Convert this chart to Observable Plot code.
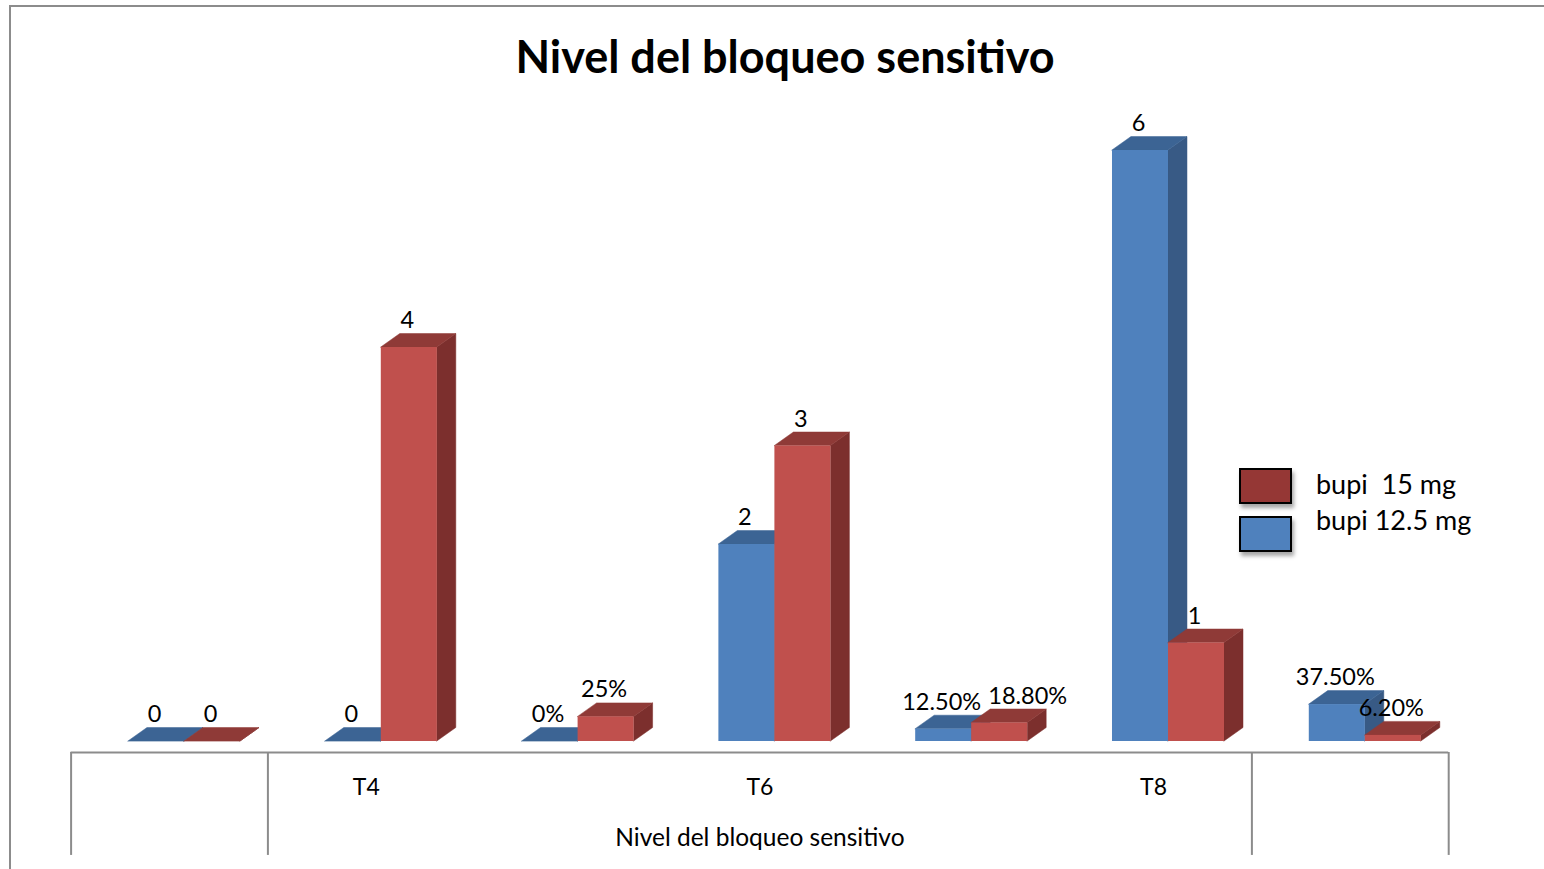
<!DOCTYPE html>
<html>
<head>
<meta charset="utf-8">
<script src="https://cdn.jsdelivr.net/npm/d3@7"></script>
<script src="https://cdn.jsdelivr.net/npm/@observablehq/plot@0.6"></script>
<style>
  html, body { margin: 0; padding: 0; background: #fff; }
  #wrap { position: relative; width: 1544px; height: 869px; overflow: hidden; background: #fff; font-family: Lato, "Open Sans", sans-serif; color: #000; }
  #frame { position: absolute; left: 9px; top: 5px; width: 1600px; height: 900px; border-left: 2px solid #8c8c8c; border-top: 2px solid #8c8c8c; z-index: 5; pointer-events: none; }
  #title { position: absolute; left: 0; top: 34px; width: 1570px; text-align: center; font-size: 45px; font-weight: 700; line-height: 1; white-space: nowrap; }
  #chart { position: absolute; left: 0; top: 100px; }
  .sw { position: absolute; left: 1239px; width: 53px; height: 36px; box-sizing: border-box; border: 2px solid #000; box-shadow: 2px 4px 4px rgba(0,0,0,0.35); }
  .lt { position: absolute; left: 1316px; font-size: 27px; line-height: 36px; white-space: pre; }
</style>
</head>
<body>
<div id="wrap">
  <div id="title">Nivel del bloqueo sensitivo</div>
  <div id="chart"></div>
  <div id="legend"></div>
  <div id="frame"></div>
</div>
<script>
// ---- data ----
const slots = ["", "T4", "", "T6", "", "T8", ""];
const groupLabel = "Nivel del bloqueo sensitivo";
const seriesNames = ["bupi 12.5 mg", "bupi  15 mg"];
const blueValues = [0, 0, 0, 2, 0.125, 6, 0.375];
const redValues  = [0, 4, 0.25, 3, 0.188, 1, 0.062];
const blueLabels = ["0", "0", "0%", "2", "12.50%", "6", "37.50%"];
const redLabels  = ["0", "4", "25%", "3", "18.80%", "1", "6.20%"];

// ---- style / geometry constants ----
const W = 0.2846;   // bar width (slot units)
const D = 0.0965;   // 3D depth in x (slot units)
const E = 0.137;    // 3D depth in y (value units)
const tableBottom = -1.045;
const tableBounds = [-0.5, 0.5, 5.5, 6.5];
const colors = {
  blue: {front: "#4f81bd", top: "#3c6494", side: "#385a85"},
  red:  {front: "#c0504d", top: "#8f3a37", side: "#7c2f2d"}
};

function buildBars(values, labels, series) {
  return values.map((v, i) => {
    const x0 = series === "blue" ? i - W : i;
    const x1 = series === "blue" ? i : i + W;
    return {id: series + i, i, x0, x1, v, label: labels[i]};
  });
}
const blueBars = buildBars(blueValues, blueLabels, "blue");
const redBars = buildBars(redValues, redLabels, "red");

function sideFaces(bars) {
  return bars.flatMap(b => [
    {id: b.id, x: b.x1, y1: 0, y2: b.v},
    {id: b.id, x: b.x1 + D, y1: E, y2: b.v + E}
  ]);
}
function topFaces(bars) {
  return bars.flatMap(b => [
    {id: b.id, y: b.v, x1: b.x0, x2: b.x1},
    {id: b.id, y: b.v + E, x1: b.x0 + D, x2: b.x1 + D}
  ]);
}
function barMarks(bars, c) {
  return [
    Plot.areaY(sideFaces(bars), {x: "x", y1: "y1", y2: "y2", z: "id", fill: c.side, stroke: c.side, strokeWidth: 0.5}),
    Plot.areaX(topFaces(bars), {y: "y", x1: "x1", x2: "x2", z: "id", fill: c.top, stroke: c.top, strokeWidth: 0.5}),
    Plot.rect(bars, {x1: "x0", x2: "x1", y1: 0, y2: "v", fill: c.front})
  ];
}

const labelFont = 23.5;
const allBars = blueBars.concat(redBars);

const chart = Plot.plot({
  width: 1544,
  height: 769,
  x: {type: "linear", domain: [-0.5, 6.5], range: [85.6, 1463.2], axis: null},
  y: {type: "linear", domain: [0, 6], range: [641, 50], axis: null},
  style: {fontFamily: "Lato, 'Open Sans', sans-serif", background: "transparent", overflow: "visible"},
  marks: [
    ...barMarks(blueBars, colors.blue),
    ...barMarks(redBars, colors.red),
    // data labels
    Plot.text(allBars.filter(d => d.label !== "18.80%"), {
      x: d => (d.x0 + d.x1) / 2, y: "v", text: "label", dy: -27, dx: -2,
      fontSize: labelFont, fill: "#000"
    }),
    Plot.text(allBars.filter(d => d.label === "18.80%"), {
      x: d => (d.x0 + d.x1) / 2, y: "v", text: "label", dy: -27, dx: 28,
      fontSize: labelFont, fill: "#000"
    }),
    // category axis table
    Plot.ruleY([0], {x1: -0.5, x2: 6.5, dx: -15, dy: 11, stroke: "#8c8c8c", strokeWidth: 2}),
    Plot.ruleX(tableBounds, {x: d => d, y1: 0, y2: tableBottom, dx: -15, dy: 11, stroke: "#8c8c8c", strokeWidth: 2}),
    Plot.text(slots, {x: (d, i) => i, y: 0, text: d => d, dx: -15, dy: 46, fontSize: 23, fill: "#000"}),
    Plot.text([groupLabel], {x: 3, y: 0, text: d => d, dx: -15, dy: 97, fontSize: 24.5, fill: "#000"})
  ]
});
document.getElementById("chart").appendChild(chart);

// legend (order as in reference: 15 mg first)
const legend = document.getElementById("legend");
const legendItems = [
  {name: seriesNames[1], color: "#953735", top: 468, textTop: 466},
  {name: seriesNames[0], color: "#4f81bd", top: 516, textTop: 502}
];
legendItems.forEach(it => {
  const sw = document.createElement("div");
  sw.className = "sw";
  sw.style.top = it.top + "px";
  sw.style.background = it.color;
  legend.appendChild(sw);
  const t = document.createElement("div");
  t.className = "lt";
  t.style.top = it.textTop + "px";
  t.textContent = it.name;
  legend.appendChild(t);
});
</script>
</body>
</html>
